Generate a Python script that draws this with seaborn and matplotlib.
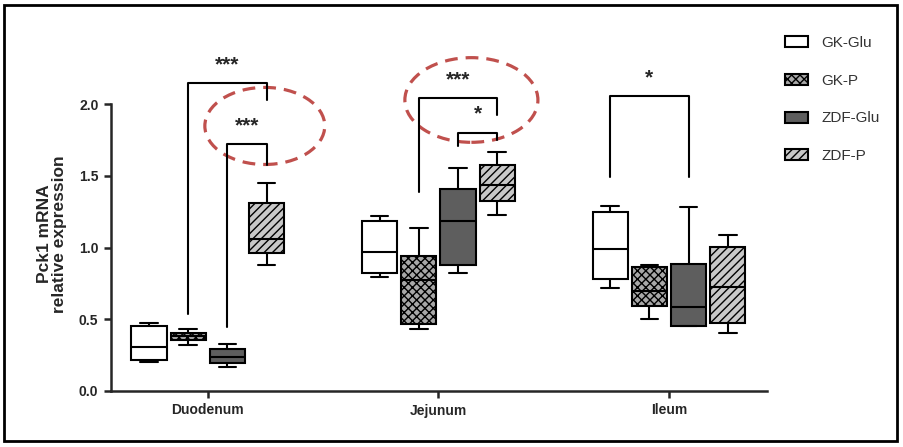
# Pck1 mRNA boxplots by intestinal segment, GraphPad style
import pandas as pd
import matplotlib.pyplot as plt
import seaborn as sns
from matplotlib.patches import Ellipse, Rectangle, Patch

segments = ["Duodenum", "Jejunum", "Ileum"]
groups = ["GK-Glu", "GK-P", "ZDF-Glu", "ZDF-P"]

# min, q1, median, q3, max for each segment
gk_glu = [[0.205, 0.216, 0.307, 0.453, 0.474],
          [0.794, 0.822, 0.969, 1.185, 1.220],
          [0.718, 0.780, 0.990, 1.247, 1.289]]
gk_p = [[0.320, 0.355, 0.383, 0.404, 0.432],
        [0.432, 0.467, 0.773, 0.941, 1.136],
        [0.502, 0.592, 0.697, 0.864, 0.878]]
zdf_glu = [[0.167, 0.195, 0.237, 0.293, 0.328],
           [0.822, 0.878, 1.185, 1.408, 1.554],
           [0.453, 0.453, 0.585, 0.885, 1.282]]
zdf_p = [[0.878, 0.960, 1.060, 1.310, 1.450],
         [1.226, 1.324, 1.435, 1.575, 1.665],
         [0.404, 0.474, 0.725, 1.003, 1.087]]

# significance brackets: segment, group a, group b, top, leg a, leg b, label, label y
brackets = [
    (0, 1, 3, 2.146, 0.537, 2.03, "***", 2.27),
    (0, 2, 3, 1.72, 0.446, 1.575, "***", 1.85),
    (1, 1, 3, 2.04, 1.387, 1.92, "***", 2.17),
    (1, 2, 3, 1.80, 1.71, 1.75, "*", 1.93),
    (2, 0, 2, 2.056, 1.49, 1.49, "*", 2.18),
]

rows = []
for name, vals in zip(groups, [gk_glu, gk_p, zdf_glu, zdf_p]):
    for seg, pts in zip(segments, vals):
        for v in pts:
            rows.append({"segment": seg, "group": name, "expr": v})
df = pd.DataFrame(rows)

sns.set_style("ticks")
plt.rcParams["font.family"] = ["Liberation Sans", "DejaVu Sans"]

palette = {"GK-Glu": "white", "GK-P": "#a8a8a8", "ZDF-Glu": "#5e5e5e", "ZDF-P": "#c8c8c8"}
hatches = ["", "xxxx", "", "////"]

fig = plt.figure(figsize=(9.04, 4.47), dpi=100)
ax = fig.add_axes([111 / 904, 56 / 447, 656 / 904, 344.4 / 447])

box_width = 0.68
sns.boxplot(data=df, x="segment", y="expr", hue="group", order=segments,
            hue_order=groups, palette=palette, saturation=1, whis=(0, 100),
            width=box_width, gap=0.1, linecolor="black", linewidth=1.5,
            legend=False, ax=ax)

for cont, h in zip(ax.containers, hatches):
    for b in cont.boxes:
        b.set_hatch(h)

ax.set_xlim(-0.42, 2.425)
ax.set_ylim(0, 2.4)
ax.set_yticks([0, 0.5, 1.0, 1.5, 2.0])
ax.set_yticklabels(["0.0", "0.5", "1.0", "1.5", "2.0"])
ax.set_xlabel("")
ax.set_ylabel("")
sns.despine(ax=ax)
ax.spines["left"].set_bounds(0, 2.0)
for s in ["left", "bottom"]:
    ax.spines[s].set_linewidth(1.8)
ax.tick_params(axis="both", length=5, width=1.8, labelsize=10, pad=4)
for lab in ax.get_xticklabels() + ax.get_yticklabels():
    lab.set_fontweight("bold")

fig.text(52 / 904, (447 - 234) / 447, "Pck1 mRNA\nrelative expression",
         rotation=90, ha="center", va="center", fontsize=12.5, fontweight="bold",
         linespacing=1.05)

# brackets
slot = box_width / len(groups)
def xpos(seg, g):
    return seg + (g - 1.5) * slot

for seg, a, b, top, la, lb, txt, ty in brackets:
    xa, xb = xpos(seg, a), xpos(seg, b)
    ax.plot([xa, xa, xb, xb], [la, top, top, lb], color="black", lw=1.5, clip_on=False)
    ax.text((xa + xb) / 2, ty, txt, ha="center", va="center", fontsize=15,
            fontweight="bold")

# red dashed highlights
for cx, cy, w, h in [(0.247, 1.847, 0.52, 0.537), (1.143, 2.028, 0.577, 0.59)]:
    ax.add_patch(Ellipse((cx, cy), w, h, fill=False, edgecolor="#c0504d",
                         lw=2.3, linestyle=(0, (4, 2.5)), clip_on=False))

handles = [Patch(facecolor=palette[g], edgecolor="black", hatch=h, lw=1.5)
           for g, h in zip(groups, hatches)]
fig.legend(handles, groups, loc="upper left", bbox_to_anchor=(771 / 904, 0.95),
           frameon=False, fontsize=11, labelspacing=1.55, handlelength=1.5,
           handleheight=0.75, handletextpad=0.9, labelcolor="#333333")

fig.patches.append(Rectangle((4 / 904, 6 / 447), 893 / 904, 436 / 447, fill=False,
                             edgecolor="black", lw=2, transform=fig.transFigure))

fig.savefig("out.png", dpi=100)
